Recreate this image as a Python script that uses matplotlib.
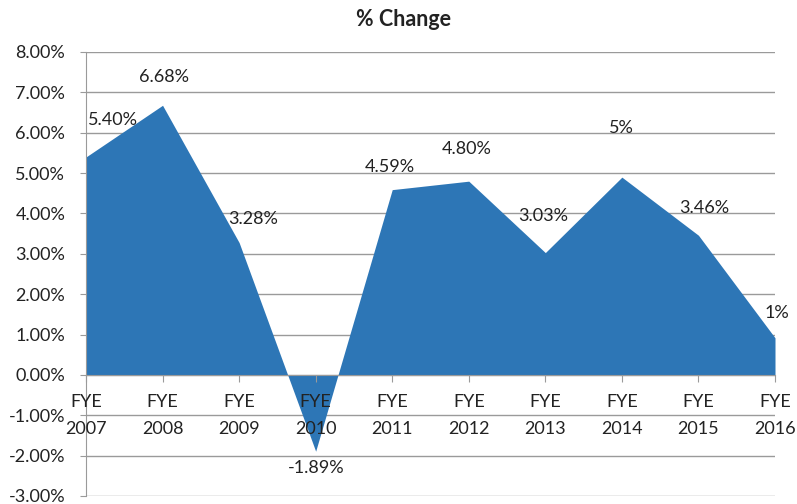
import matplotlib
matplotlib.use("Agg")
import matplotlib.pyplot as plt
from matplotlib.ticker import FuncFormatter, MultipleLocator

# Data
categories = ["FYE\n2007", "FYE\n2008", "FYE\n2009", "FYE\n2010", "FYE\n2011",
              "FYE\n2012", "FYE\n2013", "FYE\n2014", "FYE\n2015", "FYE\n2016"]
values = [5.40, 6.68, 3.28, -1.89, 4.59, 4.80, 3.03, 4.90, 3.46, 0.92]
value_labels = ["5.40%", "6.68%", "3.28%", "-1.89%", "4.59%", "4.80%", "3.03%", "5%", "3.46%", "1%"]

# Label offsets in pixels (dx, dy), style only
label_offsets = [(27, 37), (1, 28), (14, 24), (1, -17), (-2, 23),
                 (-2, 32), (-2, 37), (0, 49), (6, 27), (2, 25)]

plt.rcParams['font.family'] = ['Lato', 'DejaVu Sans']

fig = plt.figure(figsize=(7.97, 5.04), dpi=100)
ax = fig.add_axes([86/797, 1-496/504, (775-86)/797, (496-52)/504])

x = list(range(len(values)))
ax.fill_between(x, 0, values, color='#2d76b6', linewidth=0, zorder=2)

ax.set_xlim(0, len(values)-1)
ax.set_ylim(-3, 8)
ax.yaxis.set_major_locator(MultipleLocator(1))
ax.yaxis.set_major_formatter(FuncFormatter(lambda v, p: f"{v:.2f}%"))
for t in ax.get_yticks():
    ax.axhline(t, color='#9a9a9a', linewidth=1.0, zorder=1)
ax.set_axisbelow(False)

ax.set_xticks(x)
ax.set_xticklabels(categories)
ax.spines['bottom'].set_position(('data', 0))
ax.spines['bottom'].set_color('#9a9a9a')
ax.spines['left'].set_color('#9a9a9a')
ax.spines['top'].set_visible(False)
ax.spines['right'].set_visible(False)
ax.tick_params(axis='x', direction='out', length=5, color='#9a9a9a', pad=9,
               labelsize=13, labelcolor='#222222')
ax.tick_params(axis='y', direction='out', length=4, color='#9a9a9a', pad=11,
               labelsize=13, labelcolor='#222222')

for xi, v, lab, (dx, dy) in zip(x, values, value_labels, label_offsets):
    ax.annotate(lab, (xi, v), xytext=(dx, dy), textcoords='offset pixels',
                ha='center', va='center', fontsize=13, color='#222222', zorder=4)

fig.text(404/797, 1-20/504, "% Change", ha='center', va='center',
         fontsize=15.5, fontweight='bold', color='#222222')

fig.canvas.draw()
for tl in ax.get_xticklabels():
    tl.set_linespacing(1.85)

fig.savefig("out.png", dpi=100)
